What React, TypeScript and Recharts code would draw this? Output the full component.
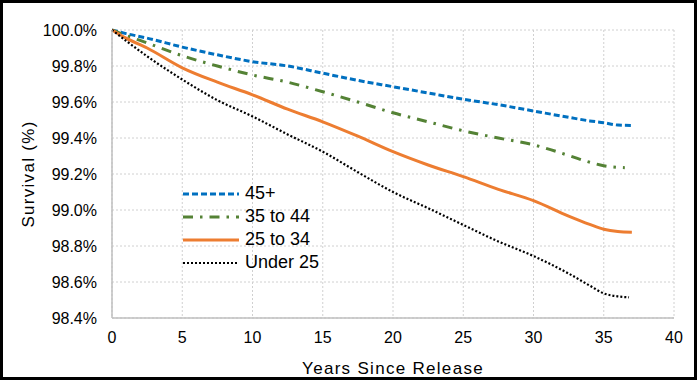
import React from "react";
import {
  LineChart,
  Line,
  XAxis,
  YAxis,
  CartesianGrid
} from "recharts";

// years since release
const years = [0, 1, 2.5, 5, 7.5, 10, 12.5, 15, 17.5, 20, 22.5, 25, 27.5, 30, 32.5, 34, 35, 36, 37];
const yearsGreen = [0, 1, 2.5, 5, 7.5, 10, 12.5, 15, 17.5, 20, 22.5, 25, 27.5, 30, 32.5, 34, 35, 36.5];
const yearsBlack = [0, 1, 2.5, 5, 7.5, 10, 12.5, 15, 17.5, 20, 22.5, 25, 27.5, 30, 32.5, 34, 35, 36, 36.8];

const over45 = [100, 99.98, 99.955, 99.905, 99.862, 99.824, 99.8, 99.76, 99.72, 99.685, 99.65, 99.615, 99.585, 99.55, 99.515, 99.495, 99.485, 99.472, 99.47];
const age35to44 = [100, 99.97, 99.928, 99.857, 99.8, 99.75, 99.71, 99.657, 99.6, 99.54, 99.49, 99.44, 99.4, 99.362, 99.303, 99.265, 99.246, 99.235];
const age25to34 = [100, 99.955, 99.9, 99.79, 99.71, 99.64, 99.56, 99.49, 99.41, 99.324, 99.25, 99.185, 99.115, 99.052, 98.966, 98.92, 98.893, 98.88, 98.876];
const under25 = [100, 99.94, 99.854, 99.725, 99.61, 99.52, 99.42, 99.324, 99.21, 99.1, 99.01, 98.917, 98.825, 98.744, 98.647, 98.58, 98.537, 98.52, 98.515];

const xTicks = [0, 5, 10, 15, 20, 25, 30, 35, 40];
const yTicks = [98.4, 98.6, 98.8, 99.0, 99.2, 99.4, 99.6, 99.8, 100.0];

const toRows = (xs: number[], ys: number[]) => xs.map((x, i) => ({ x, y: ys[i] }));

const series = [
  { name: "45+", data: toRows(years, over45), color: "#0070C0", dash: "6 3", width: 3 },
  { name: "35 to 44", data: toRows(yearsGreen, age35to44), color: "#548235", dash: "10 7 2.5 7", width: 3 },
  { name: "25 to 34", data: toRows(years, age25to34), color: "#ED7D31", dash: undefined, width: 3 },
  { name: "Under 25", data: toRows(yearsBlack, under25), color: "#000000", dash: "2 2", width: 2.2 }
];

const font = "'Liberation Sans', Arial, sans-serif";

const LegendBox = () => (
  <div style={{ position: "absolute", left: 182, top: 182, fontFamily: font, fontSize: 18, color: "#000" }}>
    {series.map((s) => (
      <div key={s.name} style={{ display: "flex", alignItems: "center", height: 23 }}>
        <svg width={58} height={10} style={{ marginRight: 5 }}>
          <line
            x1={1}
            y1={5}
            x2={57}
            y2={5}
            stroke={s.color}
            strokeWidth={s.width}
            strokeDasharray={s.dash}
          />
        </svg>
        <span>{s.name}</span>
      </div>
    ))}
  </div>
);

export default function App() {
  return (
    <div style={{ position: "absolute", left: 0, top: 0, width: 697, height: 380, background: "#fff" }}>
      <LineChart width={697} height={380} margin={{ top: 30, right: 23, bottom: 32, left: 0 }}>
        <CartesianGrid stroke="#d0d0d0" strokeDasharray="2 2" />
        <XAxis
          dataKey="x"
          type="number"
          domain={[0, 40]}
          ticks={xTicks}
          interval={0}
          height={30}
          tickLine={false}
          axisLine={{ stroke: "#bfbfbf", strokeWidth: 1.5 }}
          tickSize={6}
          tickMargin={8}
          tick={{ fill: "#000", fontSize: 16, fontFamily: font }}
          allowDuplicatedCategory={false}
          label={{
            content: () => (
              <text x={393} y={374} textAnchor="middle" fontSize={17} letterSpacing={1.3} fontFamily={font} fill="#000">
                Years Since Release
              </text>
            )
          }}
        />
        <YAxis
          type="number"
          domain={[98.4, 100]}
          ticks={yTicks}
          interval={0}
          width={112}
          tickLine={false}
          axisLine={{ stroke: "#bfbfbf", strokeWidth: 1.5 }}
          tickSize={6}
          tickMargin={9}
          tick={{ fill: "#000", fontSize: 16, fontFamily: font }}
          tickFormatter={(v: number) => v.toFixed(1) + "%"}
          label={{
            content: () => (
              <text
                x={34}
                y={174}
                transform="rotate(-90 34 174)"
                textAnchor="middle"
                fontSize={17}
                letterSpacing={1.3}
                fontFamily={font}
                fill="#000"
              >
                Survival (%)
              </text>
            )
          }}
        />
        {series.map((s) => (
          <Line
            key={s.name}
            data={s.data}
            dataKey="y"
            name={s.name}
            type="monotone"
            stroke={s.color}
            strokeWidth={s.width}
            strokeDasharray={s.dash}
            dot={false}
            activeDot={false}
            isAnimationActive={false}
          />
        ))}
      </LineChart>
      <LegendBox />
      <div
        style={{
          position: "absolute",
          left: 0,
          top: 0,
          width: 697,
          height: 380,
          boxSizing: "border-box",
          border: "3px solid #000",
          pointerEvents: "none"
        }}
      />
    </div>
  );
}
